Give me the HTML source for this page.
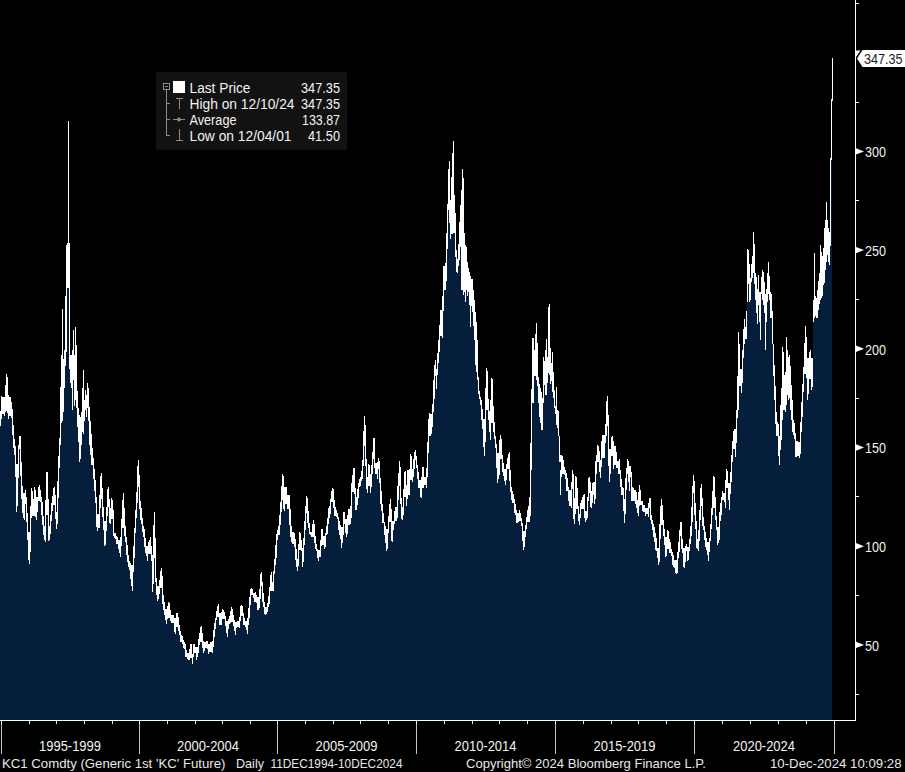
<!DOCTYPE html><html><head><meta charset="utf-8"><title>KC1 Comdty</title><style>html,body{margin:0;padding:0;background:#000;}svg{display:block}text{font-family:"Liberation Sans", "DejaVu Sans", sans-serif;}</style></head><body>
<svg width="905" height="772" viewBox="0 0 905 772">
<rect width="905" height="772" fill="#000"/>
<clipPath id="c"><rect x="0" y="0" width="833" height="720"/></clipPath>
<g clip-path="url(#c)" shape-rendering="crispEdges"><path d="M0 720V426H1V419H2V410H3V414H4V416H5V412H6V411H7V413H8V419H9V412H10V416H11V418H12V435H13V448H14V455H15V477H16V512H17V506H18V478H19V449H20V476H21V499H22V513H23V518H24V520H25V504H26V522H27V540H28V560H29V564H30V552H31V518H32V516H33V516H34V510H35V517H36V520H37V512H38V501H39V499H40V502H41V515H42V525H43V535H44V540H45V542H46V515H47V512H48V541H49V540H50V534H51V521H52V511H53V505H54V505H55V519H56V529H57V524H58V498H59V468H60V445H61V423H62V421H63V412H64V388H65V366H66V352H67V288H68V288H69V369H70V383H71V388H72V410H73V380H74V406H75V400H76V408H77V427H78V442H79V462H80V459H81V445H82V432H83V434H84V421H85V410H86V417H87V408H88V421H89V445H90V455H91V465H92V464H93V479H94V491H95V503H96V527H97V531H98V526H99V528H100V508H101V499H102V517H103V530H104V546H105V545H106V531H107V516H108V507H109V523H110V524H111V518H112V519H113V536H114V538H115V539H116V544H117V543H118V549H119V553H120V557H121V546H122V528H123V521H124V536H125V542H126V555H127V562H128V567H129V570H130V579H131V586H132V591H133V572H134V558H135V533H136V518H137V503H138V487H139V509H140V520H141V524H142V532H143V537H144V547H145V553H146V556H147V561H148V554H149V550H150V554H151V561H152V592H153V584H154V558H155V582H156V595H157V601H158V599H159V594H160V585H161V588H162V604H163V610H164V615H165V620H166V624H167V619H168V614H169V618H170V621H171V623H172V619H173V623H174V632H175V634H176V627H177V621H178V631H179V635H180V642H181V639H182V644H183V648H184V649H185V657H186V656H187V659H188V660H189V660H190V655H191V658H192V664H193V657H194V652H195V653H196V660H197V657H198V653H199V645H200V642H201V636H202V648H203V653H204V651H205V648H206V646H207V649H208V654H209V651H210V652H211V651H212V653H213V647H214V637H215V629H216V620H217V614H218V617H219V625H220V624H221V625H222V616H223V619H224V619H225V626H226V633H227V637H228V629H229V624H230V623H231V616H232V622H233V626H234V631H235V635H236V628H237V627H238V624H239V628H240V621H241V611H242V616H243V625H244V624H245V627H246V630H247V634H248V625H249V618H250V605H251V593H252V595H253V598H254V602H255V598H256V603H257V610H258V610H259V608H260V599H261V586H262V602H263V607H264V614H265V615H266V614H267V612H268V607H269V604H270V591H271V585H272V591H273V591H274V574H275V565H276V558H277V540H278V534H279V535H280V525H281V512H282V500H283V509H284V511H285V504H286V500H287V509H288V504H289V525H290V537H291V542H292V544H293V541H294V547H295V560H296V567H297V571H298V566H299V550H300V545H301V551H302V567H303V562H304V545H305V530H306V513H307V523H308V528H309V534H310V535H311V537H312V537H313V530H314V543H315V549H316V551H317V558H318V561H319V557H320V557H321V546H322V538H323V545H324V549H325V547H326V535H327V534H328V524H329V518H330V514H331V502H332V502H333V508H334V516H335V511H336V517H337V519H338V530H339V535H340V539H341V548H342V543H343V535H344V524H345V533H346V537H347V534H348V520H349V525H350V524H351V518H352V492H353V487H354V494H355V510H356V510H357V505H358V498H359V487H360V486H361V481H362V479H363V466H364V446H365V466H366V489H367V493H368V484H369V486H370V493H371V487H372V474H373V459H374V468H375V474H376V474H377V479H378V469H379V483H380V504H381V511H382V523H383V523H384V535H385V543H386V551H387V549H388V533H389V522H390V519H391V541H392V542H393V530H394V524H395V515H396V521H397V518H398V500H399V486H400V504H401V519H402V520H403V515H404V497H405V497H406V506H407V499H408V493H409V495H410V480H411V478H412V482H413V477H414V469H415V460H416V468H417V479H418V488H419V488H420V497H421V498H422V485H423V488H424V485H425V485H426V488H427V477H428V453H429V429H430V436H431V434H432V427H433V412H434V399H435V376H436V389H437V375H438V363H439V352H440V330H441V336H442V338H443V311H444V286H445V290H446V281H447V249H448V210H449V223H450V239H451V234H452V234H453V233H454V233H455V257H456V272H457V273H458V266H459V260H460V247H461V290H462V290H463V295H464V292H465V302H466V290H467V296H468V292H469V305H470V327H471V306H472V312H473V326H474V340H475V365H476V372H477V380H478V394H479V399H480V405H481V420H482V429H483V447H484V456H485V442H486V405H487V410H488V420H489V432H490V440H491V417H492V423H493V432H494V439H495V448H496V468H497V483H498V479H499V475H500V454H501V459H502V472H503V476H504V481H505V485H506V480H507V469H508V464H509V481H510V492H511V500H512V503H513V502H514V513H515V515H516V523H517V523H518V522H519V518H520V521H521V526H522V541H523V550H524V547H525V537H526V529H527V522H528V519H529V522H530V516H531V470H532V403H533V403H534V376H535V376H536V380H537V386H538V403H539V417H540V423H541V430H542V430H543V403H544V385H545V395H546V395H547V383H548V373H549V375H550V384H551V381H552V392H553V398H554V408H555V414H556V425H557V428H558V436H559V462H560V495H561V477H562V473H563V474H564V475H565V479H566V491H567V490H568V501H569V506H570V506H571V508H572V489H573V519H574V524H575V514H576V502H577V509H578V521H579V525H580V518H581V509H582V506H583V509H584V518H585V522H586V520H587V518H588V501H589V493H590V507H591V508H592V503H593V495H594V504H595V499H596V474H597V462H598V459H599V472H600V478H601V467H602V458H603V451H604V458H605V443H606V436H607V426H608V466H609V482H610V474H611V456H612V453H613V469H614V463H615V465H616V468H617V467H618V474H619V473H620V487H621V495H622V493H623V511H624V523H625V514H626V490H627V474H628V482H629V491H630V477H631V501H632V496H633V501H634V499H635V504H636V508H637V513H638V516H639V506H640V503H641V505H642V511H643V512H644V511H645V516H646V513H647V514H648V517H649V508H650V520H651V524H652V530H653V537H654V542H655V550H656V551H657V558H658V565H659V562H660V539H661V522H662V525H663V536H664V545H665V557H666V556H667V549H668V542H669V553H670V552H671V556H672V565H673V567H674V568H675V573H676V574H677V573H678V558H679V552H680V536H681V549H682V553H683V567H684V568H685V562H686V551H687V561H688V560H689V551H690V544H691V536H692V522H693V493H694V515H695V529H696V548H697V549H698V551H699V541H700V520H701V506H702V526H703V530H704V540H705V547H706V550H707V555H708V561H709V552H710V541H711V529H712V515H713V502H714V508H715V520H716V530H717V545H718V543H719V540H720V521H721V515H722V500H723V499H724V502H725V508H726V485H727V488H728V500H729V510H730V494H731V482H732V462H733V449H734V444H735V457H736V443H737V418H738V410H739V386H740V385H741V393H742V383H743V358H744V344H745V338H746V339H747V302H748V284H749V302H750V300H751V282H752V278H753V273H754V284H755V300H756V313H757V324H758V305H759V322H760V340H761V294H762V300H763V305H764V313H765V350H766V322H767V302H768V294H769V300H770V318H771V318H772V344H773V376H774V400H775V424H776V436H777V433H778V456H779V465H780V450H781V440H782V420H783V410H784V410H785V412H786V405H787V395H788V400H789V398H790V410H791V420H792V432H793V435H794V439H795V457H796V457H797V450H798V456H799V458H800V454H801V432H802V417H803V392H804V374H805V367H806V378H807V400H808V394H809V372H810V379H811V390H812V387H813V322H814V318H815V316H816V318H817V318H818V310H819V304H820V300H821V298H822V296H823V285H824V283H825V270H826V262H827V255H828V262H829V265H830V246H831V160H832V720Z" fill="#051e3c"/><path d="M0.5 411V426M1.5 396V419M2.5 397V414M3.5 397V414M4.5 397V416M5.5 385V412M6.5 374V411M7.5 377V413M8.5 395V419M9.5 397V416M10.5 397V416M11.5 402V418M12.5 409V435M13.5 425V448M14.5 439V455M15.5 446V477M16.5 464V512M17.5 464V506M18.5 445V478M19.5 436V449M20.5 436V476M21.5 462V499M22.5 486V513M23.5 493V518M24.5 493V520M25.5 490V504M26.5 497V522M27.5 513V540M28.5 532V560M29.5 532V564M30.5 506V552M31.5 488V518M32.5 491V516M33.5 499V516M34.5 487V516M35.5 490V517M36.5 497V520M37.5 497V512M38.5 487V501M39.5 485V501M40.5 490V502M41.5 497V515M42.5 502V525M43.5 516V535M44.5 526V540M45.5 500V542M46.5 472V515M47.5 472V515M48.5 499V541M49.5 526V540M50.5 515V534M51.5 503V521M52.5 496V511M53.5 488V505M54.5 487V505M55.5 495V519M56.5 512V529M57.5 481V524M58.5 456V498M59.5 438V468M60.5 387V445M61.5 355V423M62.5 309V421M63.5 359V412M64.5 350V388M65.5 296V366M66.5 245V352M67.5 243V288M68.5 121V288M69.5 243V369M70.5 355V383M71.5 355V388M72.5 350V410M73.5 330V380M74.5 355V406M75.5 327V400M76.5 345V408M77.5 391V427M78.5 408V442M79.5 415V462M80.5 417V459M81.5 412V445M82.5 388V432M83.5 370V434M84.5 400V421M85.5 390V410M86.5 395V417M87.5 383V408M88.5 388V421M89.5 407V445M90.5 421V455M91.5 434V465M92.5 448V465M93.5 458V479M94.5 469V491M95.5 480V503M96.5 497V527M97.5 514V531M98.5 514V528M99.5 495V528M100.5 476V508M101.5 473V499M102.5 488V517M103.5 507V530M104.5 521V546M105.5 521V545M106.5 507V531M107.5 489V516M108.5 487V507M109.5 499V523M110.5 508V524M111.5 498V519M112.5 500V519M113.5 510V536M114.5 533V538M115.5 533V539M116.5 536V544M117.5 537V544M118.5 540V549M119.5 540V553M120.5 537V557M121.5 519V546M122.5 500V528M123.5 493V528M124.5 508V536M125.5 526V542M126.5 537V555M127.5 545V562M128.5 555V567M129.5 561V570M130.5 563V579M131.5 565V586M132.5 565V591M133.5 546V572M134.5 528V558M135.5 510V533M136.5 492V518M137.5 466V503M138.5 460V487M139.5 475V509M140.5 501V520M141.5 508V524M142.5 518V532M143.5 526V537M144.5 529V547M145.5 538V553M146.5 546V556M147.5 546V561M148.5 542V554M149.5 540V554M150.5 537V554M151.5 546V561M152.5 555V592M153.5 525V584M154.5 512V558M155.5 538V582M156.5 578V595M157.5 586V601M158.5 586V599M159.5 580V594M160.5 571V588M161.5 568V588M162.5 576V604M163.5 595V610M164.5 602V615M165.5 609V620M166.5 609V624M167.5 606V619M168.5 602V618M169.5 603V618M170.5 610V621M171.5 615V623M172.5 615V623M173.5 615V623M174.5 618V632M175.5 618V634M176.5 613V627M177.5 613V627M178.5 617V631M179.5 625V635M180.5 631V642M181.5 635V642M182.5 636V644M183.5 640V648M184.5 642V649M185.5 644V657M186.5 650V657M187.5 653V659M188.5 653V660M189.5 649V660M190.5 644V658M191.5 644V658M192.5 654V664M193.5 644V657M194.5 644V653M195.5 647V653M196.5 647V660M197.5 647V657M198.5 639V653M199.5 633V645M200.5 627V642M201.5 626V642M202.5 633V648M203.5 641V653M204.5 642V651M205.5 642V648M206.5 641V648M207.5 641V649M208.5 644V654M209.5 644V652M210.5 642V652M211.5 642V652M212.5 641V653M213.5 630V647M214.5 623V637M215.5 618V629M216.5 611V620M217.5 606V617M218.5 604V617M219.5 613V625M220.5 613V625M221.5 612V625M222.5 609V619M223.5 610V619M224.5 612V619M225.5 616V626M226.5 621V633M227.5 621V637M228.5 619V629M229.5 616V624M230.5 611V623M231.5 607V622M232.5 609V622M233.5 615V626M234.5 620V631M235.5 622V635M236.5 622V628M237.5 621V627M238.5 621V627M239.5 617V628M240.5 606V621M241.5 605V616M242.5 606V616M243.5 613V625M244.5 618V625M245.5 621V627M246.5 621V630M247.5 618V634M248.5 608V625M249.5 597V618M250.5 589V605M251.5 588V595M252.5 589V595M253.5 593V598M254.5 593V602M255.5 592V602M256.5 595V603M257.5 597V610M258.5 597V610M259.5 589V608M260.5 574V599M261.5 572V586M262.5 582V602M263.5 593V607M264.5 602V614M265.5 607V615M266.5 607V614M267.5 603V612M268.5 596V607M269.5 587V604M270.5 575V591M271.5 572V591M272.5 582V591M273.5 571V591M274.5 559V574M275.5 545V565M276.5 534V558M277.5 530V540M278.5 526V535M279.5 515V535M280.5 502V525M281.5 486V512M282.5 474V500M283.5 476V509M284.5 487V511M285.5 487V504M286.5 487V504M287.5 495V509M288.5 495V509M289.5 495V525M290.5 509V537M291.5 526V542M292.5 532V544M293.5 532V544M294.5 533V547M295.5 539V560M296.5 549V567M297.5 559V571M298.5 544V566M299.5 532V550M300.5 533V550M301.5 540V551M302.5 548V567M303.5 538V562M304.5 521V545M305.5 506V530M306.5 496V513M307.5 498V523M308.5 511V528M309.5 523V534M310.5 532V535M311.5 532V537M312.5 524V537M313.5 520V537M314.5 524V543M315.5 536V549M316.5 544V551M317.5 549V558M318.5 550V561M319.5 550V557M320.5 540V557M321.5 529V546M322.5 529V545M323.5 536V545M324.5 536V549M325.5 533V547M326.5 526V535M327.5 518V534M328.5 508V524M329.5 506V518M330.5 499V514M331.5 491V502M332.5 488V502M333.5 489V508M334.5 500V516M335.5 507V516M336.5 510V517M337.5 513V519M338.5 517V530M339.5 521V535M340.5 525V539M341.5 527V548M342.5 527V543M343.5 512V535M344.5 512V524M345.5 519V533M346.5 519V537M347.5 515V534M348.5 509V525M349.5 509V525M350.5 506V524M351.5 483V518M352.5 475V492M353.5 468V492M354.5 468V494M355.5 488V510M356.5 497V510M357.5 489V505M358.5 483V498M359.5 479V487M360.5 477V486M361.5 471V481M362.5 460V479M363.5 431V466M364.5 416V446M365.5 425V466M366.5 459V489M367.5 477V493M368.5 464V486M369.5 465V486M370.5 474V493M371.5 465V487M372.5 452V474M373.5 438V459M374.5 438V468M375.5 463V474M376.5 463V474M377.5 462V479M378.5 458V469M379.5 461V483M380.5 478V504M381.5 491V511M382.5 504V523M383.5 513V523M384.5 522V535M385.5 526V543M386.5 529V551M387.5 529V549M388.5 516V533M389.5 504V522M390.5 499V522M391.5 509V541M392.5 521V542M393.5 521V530M394.5 511V524M395.5 507V521M396.5 507V521M397.5 486V518M398.5 473V500M399.5 461V486M400.5 467V504M401.5 498V519M402.5 507V520M403.5 489V515M404.5 472V497M405.5 471V497M406.5 485V506M407.5 470V499M408.5 470V495M409.5 469V495M410.5 454V480M411.5 456V480M412.5 469V482M413.5 459V477M414.5 452V469M415.5 450V460M416.5 456V468M417.5 465V479M418.5 472V488M419.5 480V488M420.5 480V497M421.5 477V498M422.5 467V488M423.5 467V488M424.5 477V485M425.5 477V485M426.5 468V488M427.5 442V477M428.5 419V453M429.5 413V436M430.5 414V436M431.5 414V434M432.5 404V427M433.5 380V412M434.5 365V399M435.5 360V376M436.5 369V389M437.5 353V375M438.5 340V363M439.5 325V352M440.5 310V336M441.5 310V336M442.5 296V338M443.5 266V311M444.5 266V290M445.5 263V290M446.5 233V281M447.5 204V249M448.5 169V210M449.5 161V223M450.5 200V239M451.5 177V234M452.5 153V234M453.5 141V233M454.5 195V233M455.5 213V257M456.5 250V272M457.5 259V273M458.5 244V266M459.5 222V260M460.5 205V247M461.5 190V290M462.5 169V290M463.5 178V295M464.5 233V292M465.5 245V302M466.5 247V290M467.5 262V296M468.5 268V292M469.5 272V305M470.5 276V327M471.5 279V306M472.5 279V312M473.5 290V326M474.5 300V340M475.5 312V365M476.5 322V372M477.5 340V380M478.5 377V394M479.5 391V399M480.5 397V405M481.5 400V420M482.5 409V429M483.5 419V447M484.5 419V456M485.5 388V442M486.5 368V410M487.5 371V410M488.5 399V420M489.5 411V432M490.5 400V440M491.5 378V423M492.5 379V423M493.5 406V432M494.5 422V439M495.5 436V448M496.5 444V468M497.5 453V483M498.5 453V479M499.5 440V475M500.5 435V459M501.5 439V459M502.5 455V472M503.5 463V476M504.5 469V481M505.5 469V485M506.5 464V480M507.5 458V469M508.5 454V469M509.5 452V481M510.5 470V492M511.5 487V500M512.5 491V503M513.5 494V503M514.5 499V513M515.5 504V515M516.5 510V523M517.5 513V523M518.5 513V522M519.5 510V521M520.5 513V521M521.5 518V526M522.5 523V541M523.5 531V550M524.5 531V547M525.5 525V537M526.5 517V529M527.5 510V522M528.5 506V522M529.5 497V522M530.5 443V516M531.5 389V470M532.5 338V403M533.5 338V403M534.5 350V376M535.5 334V376M536.5 323V380M537.5 343V386M538.5 377V403M539.5 384V417M540.5 388V423M541.5 392V430M542.5 398V430M543.5 357V403M544.5 361V385M545.5 350V395M546.5 339V395M547.5 357V383M548.5 307V373M549.5 304V375M550.5 348V384M551.5 363V381M552.5 352V392M553.5 372V398M554.5 390V408M555.5 406V414M556.5 387V425M557.5 410V428M558.5 411V436M559.5 436V462M560.5 455V462M560.5 470V495M561.5 455V477M562.5 456V474M563.5 460V474M564.5 467V475M565.5 470V479M566.5 473V491M567.5 478V491M568.5 487V501M569.5 490V506M570.5 490V506M571.5 482V508M572.5 470V489M573.5 474V519M574.5 498V524M575.5 476V514M576.5 477V509M577.5 488V509M578.5 506V521M579.5 514V525M580.5 503V518M581.5 500V509M582.5 497V509M583.5 495V509M584.5 494V518M585.5 511V522M586.5 511V520M587.5 497V518M588.5 478V501M589.5 477V493M590.5 482V507M591.5 491V508M592.5 483V503M593.5 482V495M594.5 482V504M595.5 461V499M596.5 455V474M597.5 445V462M598.5 446V462M599.5 451V472M600.5 460V478M601.5 441V467M602.5 435V458M603.5 435V458M604.5 435V458M605.5 424V443M606.5 401V436M607.5 396V426M608.5 415V466M609.5 449V482M610.5 449V474M611.5 437V456M612.5 436V456M613.5 441V469M614.5 446V465M615.5 446V465M616.5 452V468M617.5 461V468M618.5 461V474M619.5 459V474M620.5 470V487M621.5 479V495M622.5 487V495M623.5 488V511M624.5 499V523M625.5 478V514M626.5 468V490M627.5 459V474M628.5 461V482M629.5 466V491M630.5 466V477M631.5 472V501M632.5 487V501M633.5 488V501M634.5 490V501M635.5 490V504M636.5 492V508M637.5 500V513M638.5 492V516M639.5 485V506M640.5 490V505M641.5 501V505M642.5 501V511M643.5 505V512M644.5 505V512M645.5 508V516M646.5 508V514M647.5 508V514M648.5 503V517M649.5 498V508M650.5 498V520M651.5 515V524M652.5 520V530M653.5 524V537M654.5 527V542M655.5 533V550M656.5 538V551M657.5 548V558M658.5 548V565M659.5 524V562M660.5 506V539M661.5 499V525M662.5 505V525M663.5 520V536M664.5 529V545M665.5 537V557M666.5 537V556M667.5 530V549M668.5 531V549M669.5 539V553M670.5 542V553M671.5 549V556M672.5 552V565M673.5 555V567M674.5 560V568M675.5 560V573M676.5 560V574M677.5 552V573M678.5 542V558M679.5 530V552M680.5 522V536M681.5 522V549M682.5 539V553M683.5 548V567M684.5 548V568M685.5 546V562M686.5 544V551M687.5 547V561M688.5 547V560M689.5 539V551M690.5 526V544M691.5 507V536M692.5 486V522M693.5 475V493M694.5 481V515M695.5 503V529M696.5 521V548M697.5 539V549M698.5 530V551M699.5 510V541M700.5 488V520M701.5 484V506M702.5 498V526M703.5 517V530M704.5 526V540M705.5 532V547M706.5 538V550M707.5 542V555M708.5 542V561M709.5 538V552M710.5 524V541M711.5 508V529M712.5 491V515M713.5 476V508M714.5 477V508M715.5 497V520M716.5 516V530M717.5 527V545M718.5 527V543M719.5 512V540M720.5 503V521M721.5 497V515M722.5 491V500M723.5 493V500M724.5 493V502M725.5 480V508M726.5 469V488M727.5 471V488M728.5 483V500M729.5 483V510M730.5 472V494M731.5 455V482M732.5 441V462M733.5 431V449M734.5 429V449M735.5 429V457M736.5 410V443M737.5 376V418M738.5 332V410M739.5 344V386M740.5 369V386M741.5 369V393M742.5 350V383M743.5 329V358M744.5 319V344M745.5 327V339M746.5 311V339M747.5 249V302M748.5 250V284M749.5 264V302M750.5 278V300M751.5 264V282M752.5 256V278M753.5 232V273M754.5 244V284M755.5 273V300M756.5 277V313M757.5 289V324M758.5 275V305M759.5 292V322M760.5 292V340M761.5 277V294M762.5 270V300M763.5 272V305M764.5 282V313M765.5 294V350M766.5 289V322M767.5 273V302M768.5 262V294M769.5 276V300M770.5 292V318M771.5 294V318M772.5 311V344M773.5 344V376M774.5 365V400M775.5 386V424M776.5 412V436M777.5 422V436M778.5 424V456M779.5 436V465M780.5 405V450M781.5 388V440M782.5 347V420M783.5 352V410M784.5 375V410M785.5 372V412M786.5 337V405M787.5 350V395M788.5 357V400M789.5 355V398M790.5 366V410M791.5 385V420M792.5 400V432M793.5 420V435M794.5 423V439M795.5 433V457M796.5 441V457M797.5 441V456M798.5 442V456M799.5 442V458M800.5 422V454M801.5 402V432M802.5 384V417M803.5 367V392M804.5 343V374M805.5 326V374M806.5 337V378M807.5 358V400M808.5 358V394M809.5 352V379M810.5 350V379M811.5 358V390M812.5 358V387M813.5 300V322M814.5 253V318M815.5 296V316M816.5 298V318M817.5 290V318M818.5 281V310M819.5 273V304M820.5 245V300M821.5 252V298M822.5 256V296M823.5 248V285M824.5 228V283M825.5 220V270M826.5 202V262M827.5 220V255M828.5 228V262M829.5 232V265M830.5 158V246M831.5 99V160M832.5 58V101" fill="none" stroke="#fff" stroke-width="1"/></g>
<g shape-rendering="crispEdges">
<rect x="0" y="720" width="856" height="1" fill="#fff"/>
<rect x="855" y="0" width="1" height="721" fill="#fff"/>
<rect x="1" y="721" width="1" height="33" fill="#c4c4c4"/><rect x="1" y="721" width="1" height="3" fill="#fff"/>
<rect x="139" y="721" width="1" height="33" fill="#c4c4c4"/><rect x="139" y="721" width="1" height="3" fill="#fff"/>
<rect x="277" y="721" width="1" height="33" fill="#c4c4c4"/><rect x="277" y="721" width="1" height="3" fill="#fff"/>
<rect x="416" y="721" width="1" height="33" fill="#c4c4c4"/><rect x="416" y="721" width="1" height="3" fill="#fff"/>
<rect x="555" y="721" width="1" height="33" fill="#c4c4c4"/><rect x="555" y="721" width="1" height="3" fill="#fff"/>
<rect x="694" y="721" width="1" height="33" fill="#c4c4c4"/><rect x="694" y="721" width="1" height="3" fill="#fff"/>
<rect x="834" y="721" width="1" height="33" fill="#c4c4c4"/><rect x="834" y="721" width="1" height="3" fill="#fff"/>
<rect x="29" y="721" width="1" height="3" fill="#fff"/>
<rect x="56" y="721" width="1" height="3" fill="#fff"/>
<rect x="84" y="721" width="1" height="3" fill="#fff"/>
<rect x="112" y="721" width="1" height="3" fill="#fff"/>
<rect x="167" y="721" width="1" height="3" fill="#fff"/>
<rect x="195" y="721" width="1" height="3" fill="#fff"/>
<rect x="222" y="721" width="1" height="3" fill="#fff"/>
<rect x="250" y="721" width="1" height="3" fill="#fff"/>
<rect x="305" y="721" width="1" height="3" fill="#fff"/>
<rect x="333" y="721" width="1" height="3" fill="#fff"/>
<rect x="360" y="721" width="1" height="3" fill="#fff"/>
<rect x="388" y="721" width="1" height="3" fill="#fff"/>
<rect x="444" y="721" width="1" height="3" fill="#fff"/>
<rect x="472" y="721" width="1" height="3" fill="#fff"/>
<rect x="499" y="721" width="1" height="3" fill="#fff"/>
<rect x="527" y="721" width="1" height="3" fill="#fff"/>
<rect x="583" y="721" width="1" height="3" fill="#fff"/>
<rect x="611" y="721" width="1" height="3" fill="#fff"/>
<rect x="638" y="721" width="1" height="3" fill="#fff"/>
<rect x="666" y="721" width="1" height="3" fill="#fff"/>
<rect x="722" y="721" width="1" height="3" fill="#fff"/>
<rect x="750" y="721" width="1" height="3" fill="#fff"/>
<rect x="778" y="721" width="1" height="3" fill="#fff"/>
<rect x="806" y="721" width="1" height="3" fill="#fff"/>
<rect x="856" y="3" width="3" height="1" fill="#fff"/>
<rect x="856" y="102" width="3" height="1" fill="#fff"/>
<rect x="856" y="200" width="3" height="1" fill="#fff"/>
<rect x="856" y="299" width="3" height="1" fill="#fff"/>
<rect x="856" y="398" width="3" height="1" fill="#fff"/>
<rect x="856" y="496" width="3" height="1" fill="#fff"/>
<rect x="856" y="595" width="3" height="1" fill="#fff"/>
<rect x="856" y="694" width="3" height="1" fill="#fff"/>
</g>
<path d="M856 148.2L864 151.4L856 154.6Z" fill="#fff"/>
<text x="865" y="157.2" font-size="14" fill="#f2f2f2" textLength="21" lengthAdjust="spacingAndGlyphs">300</text>
<path d="M856 246.9L864 250.1L856 253.3Z" fill="#fff"/>
<text x="865" y="255.9" font-size="14" fill="#f2f2f2" textLength="21" lengthAdjust="spacingAndGlyphs">250</text>
<path d="M856 345.6L864 348.8L856 352.0Z" fill="#fff"/>
<text x="865" y="354.6" font-size="14" fill="#f2f2f2" textLength="21" lengthAdjust="spacingAndGlyphs">200</text>
<path d="M856 444.3L864 447.5L856 450.7Z" fill="#fff"/>
<text x="865" y="453.3" font-size="14" fill="#f2f2f2" textLength="21" lengthAdjust="spacingAndGlyphs">150</text>
<path d="M856 543.0L864 546.2L856 549.4Z" fill="#fff"/>
<text x="865" y="552.0" font-size="14" fill="#f2f2f2" textLength="21" lengthAdjust="spacingAndGlyphs">100</text>
<path d="M856 641.7L864 644.9L856 648.1Z" fill="#fff"/>
<text x="865" y="650.7" font-size="14" fill="#f2f2f2" textLength="14" lengthAdjust="spacingAndGlyphs">50</text>
<path d="M856 50.5L860.5 50.5L856 57Z" fill="#fff"/>
<path d="M857 58.5L862.5 50L905 50L905 67L862.5 67Z" fill="#fff"/>
<text x="864" y="63.5" font-size="14" fill="#1c1c1c" textLength="38.5" lengthAdjust="spacingAndGlyphs">347.35</text>
<text x="39.0" y="751" font-size="14" fill="#f2f2f2" textLength="62" lengthAdjust="spacingAndGlyphs">1995-1999</text>
<text x="177.0" y="751" font-size="14" fill="#f2f2f2" textLength="62" lengthAdjust="spacingAndGlyphs">2000-2004</text>
<text x="315.5" y="751" font-size="14" fill="#f2f2f2" textLength="62" lengthAdjust="spacingAndGlyphs">2005-2009</text>
<text x="454.5" y="751" font-size="14" fill="#f2f2f2" textLength="62" lengthAdjust="spacingAndGlyphs">2010-2014</text>
<text x="593.5" y="751" font-size="14" fill="#f2f2f2" textLength="62" lengthAdjust="spacingAndGlyphs">2015-2019</text>
<text x="733.0" y="751" font-size="14" fill="#f2f2f2" textLength="62" lengthAdjust="spacingAndGlyphs">2020-2024</text>
<text x="2" y="768" font-size="13" fill="#e8e8e8" textLength="223.5" lengthAdjust="spacingAndGlyphs">KC1 Comdty (Generic 1st 'KC' Future)</text>
<text x="236" y="768" font-size="13" fill="#e8e8e8" textLength="28" lengthAdjust="spacingAndGlyphs">Daily</text>
<text x="270.5" y="768" font-size="13" fill="#e8e8e8" textLength="132" lengthAdjust="spacingAndGlyphs">11DEC1994-10DEC2024</text>
<text x="466" y="768" font-size="13" fill="#e8e8e8" textLength="240" lengthAdjust="spacingAndGlyphs">Copyright© 2024 Bloomberg Finance L.P.</text>
<text x="770" y="768" font-size="13" fill="#e8e8e8" textLength="131.5" lengthAdjust="spacingAndGlyphs">10-Dec-2024 10:09:28</text>
<rect x="156" y="72" width="191" height="78" rx="2.5" fill="#121212"/>
<g fill="none" stroke="#8c8c8c" stroke-width="1" shape-rendering="crispEdges">
<rect x="163.5" y="83.5" width="6" height="6"/>
<path d="M165 86.5H168"/>
<path d="M166.5 90V135.5H170M166.5 103.5H170M166.5 119.5H170"/>
<path d="M176 98.5H183M179.5 98V109"/>
<path d="M173 119.5H185"/>
<path d="M176 140.5H183M179.5 129V140"/>
</g>
<path d="M176.5 119.5L179 117L181.5 119.5L179 122Z" fill="#8c8c8c"/>
<rect x="173" y="81" width="12" height="12" fill="#fff"/>
<text x="189.5" y="92.5" font-size="14" fill="#f2f2f2" textLength="61" lengthAdjust="spacingAndGlyphs">Last Price</text>
<text x="301" y="92.5" font-size="14" fill="#f2f2f2" textLength="39" lengthAdjust="spacingAndGlyphs">347.35</text>
<text x="189.5" y="108.5" font-size="14" fill="#f2f2f2" textLength="105" lengthAdjust="spacingAndGlyphs">High on 12/10/24</text>
<text x="301" y="108.5" font-size="14" fill="#f2f2f2" textLength="39" lengthAdjust="spacingAndGlyphs">347.35</text>
<text x="189.5" y="124.6" font-size="14" fill="#f2f2f2" textLength="47" lengthAdjust="spacingAndGlyphs">Average</text>
<text x="302" y="124.6" font-size="14" fill="#f2f2f2" textLength="38" lengthAdjust="spacingAndGlyphs">133.87</text>
<text x="189.5" y="140.5" font-size="14" fill="#f2f2f2" textLength="102" lengthAdjust="spacingAndGlyphs">Low on 12/04/01</text>
<text x="308" y="140.5" font-size="14" fill="#f2f2f2" textLength="32" lengthAdjust="spacingAndGlyphs">41.50</text>
</svg></body></html>
